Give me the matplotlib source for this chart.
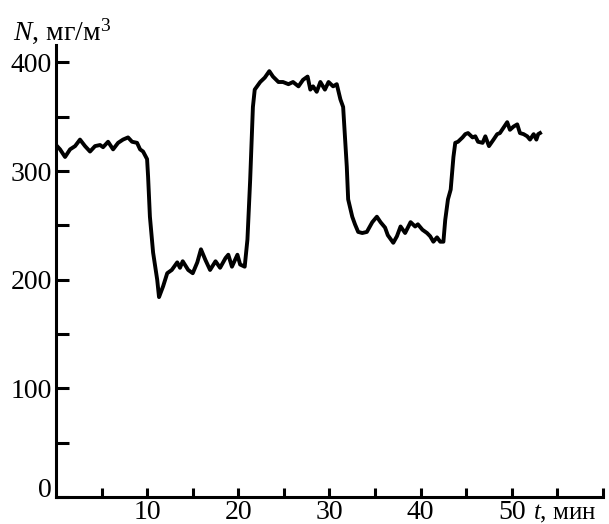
import matplotlib.pyplot as plt

# --- данные ---
t_min = [0.0, 0.44, 0.99, 1.54, 2.09, 2.63, 3.18, 3.73, 4.28, 4.83, 5.16, 5.71,
         6.26, 6.81, 7.35, 7.90, 8.34, 8.89, 9.22, 9.55, 9.99, 10.1, 10.3, 10.65,
         11.1, 11.3, 11.75, 12.2, 12.7, 13.3, 13.6, 13.9, 14.5, 15.0, 15.5, 15.9,
         16.4, 16.9, 17.5, 18.0, 18.6, 18.9, 19.3, 19.9, 20.2, 20.7, 21.0, 21.3,
         21.6, 21.8, 22.4, 22.9, 23.4, 23.8, 24.4, 24.9, 25.5, 26.0, 26.6, 27.1,
         27.6, 27.9, 28.2, 28.6, 29.0, 29.5, 29.9, 30.4, 30.8, 31.2, 31.5, 31.9,
         32.05, 32.5, 32.8, 33.15, 33.6, 34.1, 34.7, 35.2, 35.6, 36.1, 36.4, 37.0,
         37.4, 37.8, 38.3, 38.9, 39.4, 39.7, 40.2, 40.7, 41.05, 41.4, 41.8, 42.15,
         42.5, 42.7, 43.0, 43.3, 43.6, 43.8, 44.1, 44.6, 44.9, 45.2, 45.7, 46.0,
         46.3, 46.8, 47.1, 47.5, 48.0, 48.4, 48.7, 49.1, 49.5, 49.8, 50.2, 50.6,
         50.9, 51.3, 51.7, 52.0, 52.4, 52.7, 52.9, 53.1]
n_mg = [324, 320, 313, 320, 323, 329, 323, 318, 323, 324, 322, 327,
        320, 326, 329, 331, 327, 326, 320, 318, 311, 295, 258, 225,
        200, 184, 194, 206, 209, 216, 211, 217, 209, 206, 216, 228,
        218, 209, 217, 211, 220, 223, 212, 223, 214, 212, 237, 292,
        359, 375, 382, 386, 392, 387, 382, 382, 380, 382, 378, 384,
        387, 375, 378, 373, 382, 375, 382, 378, 380, 366, 359, 304,
        274, 258, 251, 244, 243, 244, 253, 258, 253, 248, 241, 234,
        240, 249, 243, 253, 249, 251, 246, 243, 240, 235, 239, 235,
        235, 255, 274, 283, 313, 326, 327, 331, 334, 335, 331, 332,
        327, 326, 332, 323, 329, 334, 335, 340, 345, 338, 341, 343,
        335, 334, 332, 329, 334, 329, 334, 335]

x_major = [10, 20, 30, 40, 50]
x_minor = [5, 15, 25, 35, 45, 55, 60]
y_major = [0, 100, 200, 300, 400]
y_minor = [50, 150, 250, 350]

plt.rcParams['font.family'] = ['Liberation Serif', 'DejaVu Serif']
plt.rcParams['mathtext.fontset'] = 'custom'
plt.rcParams['mathtext.rm'] = 'Liberation Serif'
plt.rcParams['mathtext.it'] = 'Liberation Serif:italic'

fig = plt.figure(figsize=(6.09, 5.24), dpi=100)
ax = fig.add_axes([0.092, 0.0515, 0.898, 0.8625])

ax.plot(t_min, n_mg, color='black', linewidth=2.8)

ax.set_xlim(0, 60)
ax.set_ylim(0, 416)

for s in ['top', 'right']:
    ax.spines[s].set_visible(False)
for s in ['left', 'bottom']:
    ax.spines[s].set_linewidth(2.2)

ax.set_xticks(x_major)
ax.set_xticks(x_minor, minor=True)
ax.set_yticks(y_major)
ax.set_yticks(y_minor, minor=True)

ax.tick_params(axis='x', which='both', direction='in', length=6.5, width=2.2,
               labelsize=20, pad=2.5)
ax.tick_params(axis='y', which='both', direction='in', length=9.5, width=2.2,
               labelsize=20, pad=3)

# подпись "0" чуть выше оси x
ax.yaxis.get_major_ticks()[0].label1.set_verticalalignment('baseline')

fig.text(0.022, 0.925, r'$N$, мг/м$^3$', fontsize=20, ha='left', va='baseline')
fig.text(0.876, 0.008, r'$t$, мин', fontsize=18, ha='left', va='baseline')

plt.savefig('out.png', dpi=100)
